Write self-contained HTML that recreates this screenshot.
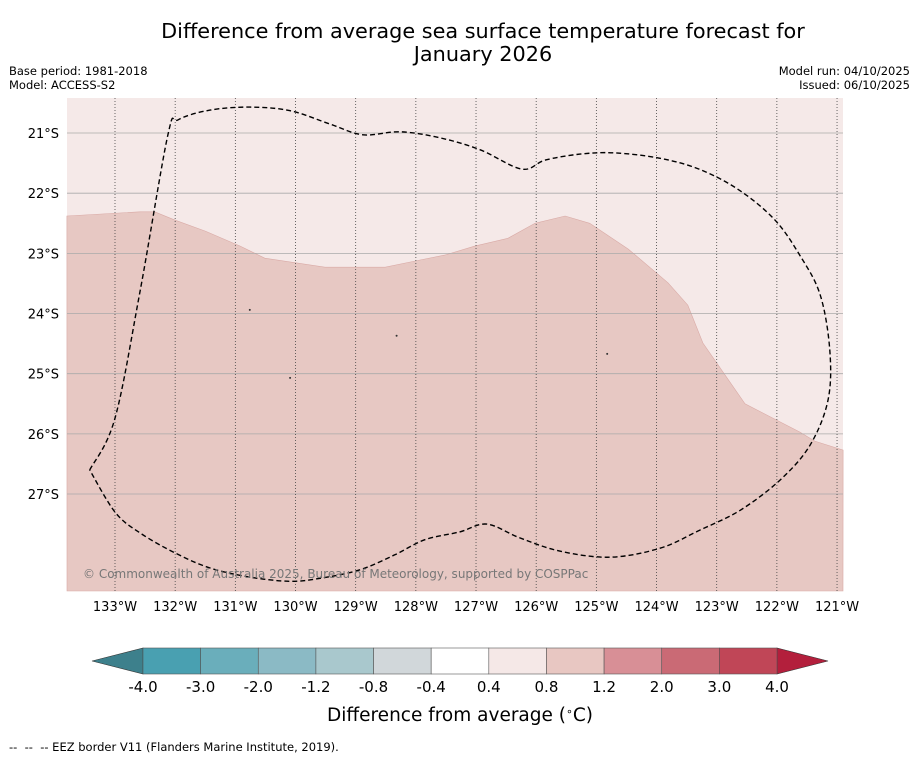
<!DOCTYPE html>
<html><head><meta charset="utf-8"><style>
body{margin:0;background:#fff;font-family:"Liberation Sans","DejaVu Sans",sans-serif;}
</style></head><body>
<svg id="c" width="919" height="758" xmlns="http://www.w3.org/2000/svg" font-family="DejaVu Sans, Liberation Sans, sans-serif">
<text x="483" y="38" text-anchor="middle" font-size="20.8">Difference from average sea surface temperature forecast for</text>
<text x="483" y="61" text-anchor="middle" font-size="20.8">January 2026</text>
<text x="9" y="75" font-size="11.5">Base period: 1981-2018</text>
<text x="9" y="89" font-size="11.5">Model: ACCESS-S2</text>
<text x="910" y="75" font-size="11.5" text-anchor="end">Model run: 04/10/2025</text>
<text x="910" y="89" font-size="11.5" text-anchor="end">Issued: 06/10/2025</text>
<g id="map"></g>
<g id="cbar"></g>
<text x="460" y="721" text-anchor="middle" font-size="18.5">Difference from average (<tspan baseline-shift="super" font-size="11">∘</tspan>C)</text>
<text x="9" y="751" font-size="11.5" style="white-space:pre">--  --  -- EEZ border V11 (Flanders Marine Institute, 2019).</text>
</svg>
<script>
const lonTicks=[-133,-132,-131,-130,-129,-128,-127,-126,-125,-124,-123,-122,-121];
const latTicks=[-21,-22,-23,-24,-25,-26,-27];
const warmLon=[-133.80,-132.58,-132.34,-132.00,-131.50,-130.92,-130.51,-129.51,-128.51,-127.93,-127.52,-127.02,-126.47,-126.02,-125.52,-125.11,-124.47,-123.81,-123.48,-123.23,-122.53,-121.62,-121.37,-120.90];
const warmLat=[-22.38,-22.31,-22.31,-22.45,-22.63,-22.88,-23.08,-23.23,-23.23,-23.11,-23.03,-22.88,-22.75,-22.50,-22.38,-22.50,-22.93,-23.49,-23.86,-24.49,-25.50,-25.97,-26.12,-26.27];
const eezLon=[-133.42,-133,-132.58,-132.12,-131.95,-131.42,-130.76,-130.09,-129.43,-128.88,-128.26,-127.60,-126.93,-126.24,-125.85,-125.27,-124.69,-123.94,-123.27,-122.61,-122.03,-121.62,-121.28,-121.12,-121.15,-121.45,-121.95,-122.61,-123.28,-123.94,-124.77,-125.60,-126.27,-126.82,-127.27,-127.85,-128.35,-128.93,-129.59,-130.09,-130.76,-131.42,-132.00,-132.58,-133,-133.42];
const eezLat=[-26.60,-25.74,-23.61,-21.03,-20.78,-20.62,-20.57,-20.63,-20.85,-21.03,-20.98,-21.08,-21.28,-21.60,-21.45,-21.35,-21.33,-21.42,-21.61,-21.96,-22.45,-23.03,-23.69,-24.61,-25.44,-26.19,-26.77,-27.27,-27.60,-27.90,-28.05,-27.95,-27.73,-27.50,-27.63,-27.76,-28.01,-28.26,-28.40,-28.45,-28.38,-28.23,-27.98,-27.65,-27.30,-26.60];
const cbarLabels=["-4.0","-3.0","-2.0","-1.2","-0.8","-0.4","0.4","0.8","1.2","2.0","3.0","4.0"];
const cbarColors=["#49a0b1","#6aaebb","#8bbac5","#a9c8cd","#d1d7da","#ffffff","#f5e8e7","#e8c7c2","#d88f96","#ca6a75","#c04657"];
const NS="http://www.w3.org/2000/svg";
const X0=67,X1=843,Y0=98,Y1=591;
const sx=lon=>115+(lon+133)*60.17;
const sy=lat=>133+(-21-lat)*60.17;
function mk(t,a,p){const e=document.createElementNS(NS,t);for(const k in a)e.setAttribute(k,a[k]);p.appendChild(e);return e;}
function smooth(pts){let s='M'+pts[0][0].toFixed(1)+','+pts[0][1].toFixed(1);
for(let i=0;i<pts.length-1;i++){const p0=pts[Math.max(0,i-1)],p1=pts[i],p2=pts[i+1],p3=pts[Math.min(pts.length-1,i+2)];
const c1=[p1[0]+(p2[0]-p0[0])/6,p1[1]+(p2[1]-p0[1])/6],c2=[p2[0]-(p3[0]-p1[0])/6,p2[1]-(p3[1]-p1[1])/6];
s+=` C${c1[0].toFixed(1)},${c1[1].toFixed(1)} ${c2[0].toFixed(1)},${c2[1].toFixed(1)} ${p2[0].toFixed(1)},${p2[1].toFixed(1)}`;}return s;}
const map=document.getElementById('map');
const bg=mk('rect',{x:X0,y:Y0,width:X1-X0,height:Y1-Y0,fill:'#f5e9e8'},map);


let d='M'+warmLon.map((l,i)=>sx(l).toFixed(1)+','+sy(warmLat[i]).toFixed(1)).join(' L')+` L${X1},${Y1} L${X0},${Y1} Z`;
const warm=mk('path',{d:d,fill:'#e7c8c3',stroke:'#d9aaa6','stroke-width':0.6},map);


latTicks.forEach(l=>{const y=sy(l);
const g=mk('line',{x1:X0,x2:X1,y1:y,y2:y,stroke:'#aaa','stroke-width':0.8},map);


const t=mk('text',{x:59,y:y+5,'text-anchor':'end','font-size':13},map);t.textContent=(-l)+'°S';

});
lonTicks.forEach(l=>{const x=sx(l);
const g=mk('line',{x1:x,x2:x,y1:Y0,y2:Y1,stroke:'#444','stroke-width':0.8,'stroke-dasharray':'1,2'},map);


const t=mk('text',{x:x,y:611,'text-anchor':'middle','font-size':13},map);t.textContent=(-l)+'°W';

});
const eez=mk('path',{d:smooth(eezLon.map((l,i)=>[sx(l),sy(eezLat[i])])),fill:'none',stroke:'#000','stroke-width':1.4,'stroke-dasharray':'5,3'},map);


[[-130.76,-23.94],[-128.32,-24.37],[-130.09,-25.07],[-124.82,-24.67]].forEach(p=>{const c=mk('circle',{cx:sx(p[0]),cy:sy(p[1]),r:1,fill:'#333'},map);

});
const cp=mk('text',{x:83,y:578,'font-size':12,fill:'#777'},map);cp.textContent='© Commonwealth of Australia 2025, Bureau of Meteorology, supported by COSPPac';


const cb=document.getElementById('cbar');
const bx0=143,bw=(777-143)/cbarColors.length,by=648,bh=26;
const lt=mk('polygon',{points:`${bx0},${by} ${bx0},${by+bh} 92,${by+bh/2}`,fill:'#3d808c',stroke:'#333','stroke-width':0.6},cb);


const rt=mk('polygon',{points:`777,${by} 777,${by+bh} 828,${by+bh/2}`,fill:'#b31f3c',stroke:'#333','stroke-width':0.6},cb);


cbarColors.forEach((c,i)=>{const r=mk('rect',{x:bx0+i*bw,y:by,width:bw,height:bh,fill:c,stroke:'#555','stroke-width':0.6},cb);

});
cbarLabels.forEach((s,i)=>{const t=mk('text',{x:bx0+i*bw,y:692,'text-anchor':'middle','font-size':15},cb);t.textContent=s;

});
</script>
</body></html>
